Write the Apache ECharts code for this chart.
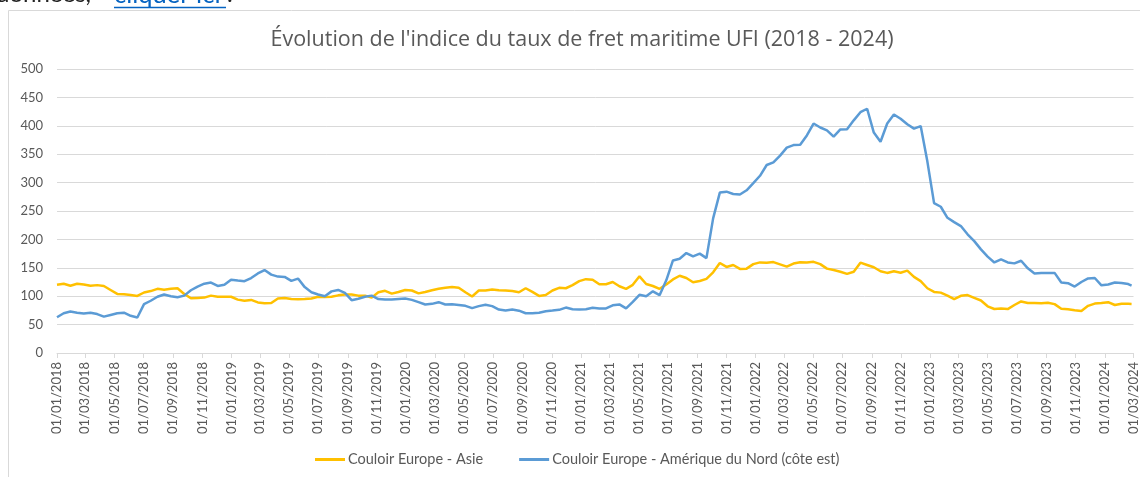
<!DOCTYPE html>
<html>
<head>
<meta charset="utf-8">
<script src="https://cdn.jsdelivr.net/npm/echarts@6.0.0/dist/echarts.min.js"></script>
<style>
  html, body { margin: 0; padding: 0; background: #fff; }
  #chart { width: 1140px; height: 477px; }
</style>
</head>
<body>
<div id="chart"></div>
<script>
// indice UFI, relevé toutes les deux semaines à partir du 01/01/2018
var asie = [
    120, 122, 118.5, 122, 120.5, 118.5, 119.5, 118, 111, 104,
    103.5, 102, 100.5, 106.5, 109, 113, 111.5, 113, 114, 104,
    96.5, 97, 97.5, 101, 99, 99, 99, 94, 92, 93.5,
    89, 87.5, 88, 96, 97, 95, 94.5, 95, 96, 99,
    98.5, 99, 101.5, 103, 103, 101, 101, 97.5, 107, 109.5,
    104.5, 107.5, 111, 110, 105, 107.5, 110.5, 113, 114.8, 116,
    115, 107, 99.5, 110, 110, 111.8, 110.5, 110, 109, 107,
    114, 107.5, 100.5, 102, 110, 114.8, 114, 119.5, 126.5, 130,
    129, 121, 121, 125, 117.5, 113, 120, 135, 121.5, 118,
    113, 120.5, 129.5, 136, 132, 124.5, 126.8, 130.5, 142, 158.5,
    151.5, 155, 148, 148.5, 156.5, 159.5, 159, 160, 156, 152,
    157.5, 159.7, 159.5, 160.5, 156.5, 148.5, 146, 143, 139.2, 143,
    159, 155, 151, 144, 141, 143.8, 141.4, 145, 134, 126.5,
    114, 107.5, 106.3, 101, 94.8, 100.6, 102, 97, 92.5, 82.2,
    77.5, 78.3, 77.3, 84.5, 90.8, 88, 88, 87.5, 88.5, 86,
    78, 76.9, 75.3, 74, 83, 87, 88, 89.5, 84.5, 86.6,
    86.6
];
var amerique = [
    63, 70, 73, 71, 69.5, 71, 68.5, 64, 67, 70,
    71, 65.5, 62.5, 86, 92, 99, 103, 100, 98.3, 101,
    110.5, 117, 122, 124, 118, 120, 129, 127.5, 126.5, 132,
    140, 146, 138, 134.5, 134, 127, 131, 116, 107, 103,
    100, 108.5, 111, 106, 93, 95.5, 99, 101, 95, 94,
    94, 95, 96, 93.5, 89.5, 85.3, 86.5, 89.5, 85.3, 86,
    84.7, 83, 79, 82.5, 85, 82.5, 76.5, 75, 76.5, 74.5,
    70, 70, 71, 73.5, 74.7, 76, 80, 77, 76.5, 77,
    79.5, 78.5, 78.5, 84, 85.5, 78.5, 90, 102.5, 100, 108.6,
    101.8, 128, 163, 166, 176, 170, 175, 167, 237, 282.4,
    284, 280, 279, 286.5, 299, 312, 331, 335.5, 347.5, 361.5,
    366, 366.5, 383, 404, 397, 392, 380.8, 393.6, 394, 409.6,
    424, 430, 388, 372, 404, 420, 412.5, 402.7, 395, 399.5,
    337, 263.8, 257.5, 238, 230.5, 223.5, 209, 197, 182.5, 169.7,
    159.4, 165, 159.5, 157.8, 162.4, 149, 140, 140.9, 140.9, 141,
    124, 123, 117, 125, 131.3, 132, 119.2, 120.5, 124, 123.3,
    121.3
];
// dernier relevé (semaine du 26/02/2024)
var dernierReleve = ['2024-02-26', 86.4, 118.6];

var nomsSeries = ['Couloir Europe - Asie', 'Couloir Europe - Amérique du Nord (côte est)'];
var titre = "Évolution de l'indice du taux de fret maritime UFI (2018 - 2024)";

// dates des relevés
var dates = [];
for (var i = 0; i < asie.length; i++) {
    dates.push(new Date(2018, 0, 1 + 14 * i).getTime());
}
var fin = dernierReleve[0].split('-');
dates.push(new Date(+fin[0], +fin[1] - 1, +fin[2]).getTime());
asie.push(dernierReleve[1]);
amerique.push(dernierReleve[2]);

// graduations : le 1er de chaque mois impair
var debutAxe = new Date(2018, 0, 1).getTime();
var finAxe = new Date(2024, 2, 1).getTime();
var graduations = [];
for (var a = 2018; a <= 2024; a++) {
    for (var m = 0; m < 12; m += 2) {
        var t = new Date(a, m, 1).getTime();
        if (t <= finAxe) graduations.push(t);
    }
}

function deuxChiffres(n) { return (n < 10 ? '0' : '') + n; }
function formatDate(v) {
    var d = new Date(v);
    return deuxChiffres(d.getDate()) + '/' + deuxChiffres(d.getMonth() + 1) + '/' + d.getFullYear();
}

var chart = echarts.init(document.getElementById('chart'));
var police = 'Lato, "Open Sans", sans-serif';
var gris = '#595959';

var option = {
    animation: false,
    textStyle: {fontFamily: police},
    title: {
        text: titre,
        left: 582,
        textAlign: 'center',
        top: 29,
        padding: 0,
        textStyle: {fontFamily: '"Open Sans", sans-serif', fontSize: 21.5, fontWeight: 'normal', color: gris}
    },
    legend: {
        data: nomsSeries,
        left: 315,
        top: 452,
        padding: 0,
        icon: 'rect',
        itemWidth: 30,
        itemHeight: 3,
        itemGap: 36,
        textStyle: {fontFamily: police, fontSize: 14.5, color: gris, padding: [0, 0, 0, -2]}
    },
    grid: {left: 57, right: 3, top: 69, bottom: 124},
    xAxis: {
        type: 'value',
        min: debutAxe,
        max: finAxe,
        axisLine: {lineStyle: {color: '#d9d9d9'}},
        axisTick: {show: true, length: 5, customValues: graduations, lineStyle: {color: '#d9d9d9'}},
        axisLabel: {
            customValues: graduations,
            rotate: 90,
            margin: 9,
            fontSize: 13,
            color: gris,
            fontFamily: police,
            formatter: formatDate
        },
        splitLine: {show: false}
    },
    yAxis: {
        type: 'value',
        min: 0,
        max: 500,
        interval: 50,
        axisLine: {show: false},
        axisTick: {show: false},
        axisLabel: {fontSize: 13, color: gris, margin: 14, fontFamily: police},
        splitLine: {lineStyle: {color: '#d9d9d9'}}
    },
    series: [
        {
            name: nomsSeries[0],
            type: 'line',
            symbol: 'none',
            data: dates.map(function (d, i) { return [d, asie[i]]; }),
            itemStyle: {color: '#FFC000'},
            lineStyle: {color: '#FFC000', width: 2.5}
        },
        {
            name: nomsSeries[1],
            type: 'line',
            symbol: 'none',
            data: dates.map(function (d, i) { return [d, amerique[i]]; }),
            itemStyle: {color: '#5B9BD5'},
            lineStyle: {color: '#5B9BD5', width: 2.5}
        }
    ],
    graphic: [
        {
            type: 'rect',
            shape: {x: 8.5, y: 10.5, width: 1200, height: 500},
            style: {fill: 'none', stroke: '#d9d9d9', lineWidth: 1},
            silent: true
        },
        {
            type: 'text',
            left: -4,
            top: -18,
            style: {text: 'données,', fontSize: 24, fontFamily: police, fill: '#222'}
        },
        {
            type: 'text',
            left: 114,
            top: -18,
            style: {text: 'cliquer ici', fontSize: 25.5, fontFamily: police, fill: '#0563C1'}
        },
        {
            type: 'line',
            shape: {x1: 114, y1: 7.5, x2: 226, y2: 7.5},
            style: {stroke: '#0563C1', lineWidth: 1.5}
        },
        {
            type: 'text',
            left: 227,
            top: -18,
            style: {text: '.', fontSize: 24, fontFamily: police, fill: '#222'}
        }
    ]
};
chart.setOption(option);
</script>
</body>
</html>
